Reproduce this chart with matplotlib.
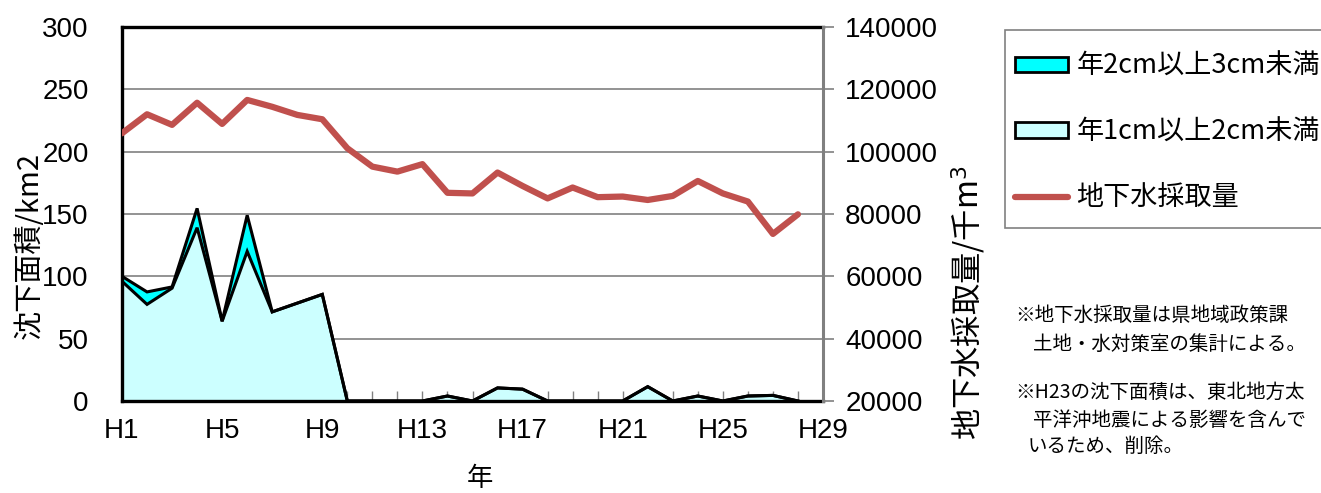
import numpy as np
import matplotlib
matplotlib.use("Agg")
import matplotlib.pyplot as plt
from matplotlib.patches import Patch, Rectangle
from matplotlib.lines import Line2D

plt.rcParams['font.family'] = ['Liberation Sans', 'Noto Sans CJK JP', 'DejaVu Sans']
JP = ['Noto Sans CJK JP', 'DejaVu Sans']

# data (H1..H28)
years = np.arange(1, 29)
area_1to2 = [96, 77.5, 90.5, 139, 64, 120, 71.5, 78.5, 85.5, 0,
             0, 0, 0, 4, 0, 10.5, 9.5, 0, 0, 0,
             0, 11.5, 0, 4, 0, 4, 4.5, 0]
area_2to3 = [4, 10, 1, 15.5, 0, 29, 0, 0, 0, 0,
             0, 0, 0, 0, 0, 0, 0, 0, 0, 0,
             0, 0, 0, 0, 0, 0, 0, 0]
pumping = [105900, 112000, 108600, 115700, 108900, 116600, 114400, 111800, 110400, 101100,
           95200, 93600, 96000, 86800, 86600, 93300, 89000, 85000, 88500, 85400,
           85600, 84500, 85800, 90600, 86600, 84000, 73600, 79900]
xtick_pos = [1, 5, 9, 13, 17, 21, 25, 29]
xtick_lab = ['H1', 'H5', 'H9', 'H13', 'H17', 'H21', 'H25', 'H29']

W, H = 1321, 493
fig = plt.figure(figsize=(W / 100, H / 100), dpi=100)
ax = fig.add_axes([122 / W, (H - 401) / H, (823 - 122) / W, (401 - 27) / H])

c1 = '#CCFFFF'
c2 = '#00FFFF'
lower = np.array(area_1to2)
upper = lower + np.array(area_2to3)
ax.fill_between(years, 0, lower, color=c1, lw=0, zorder=2)
ax.fill_between(years, lower, upper, color=c2, lw=0, zorder=2)
ax.plot(years, lower, color='black', lw=2.2, zorder=3, solid_joinstyle='miter')
ax.plot(years, upper, color='black', lw=2.2, zorder=3, solid_joinstyle='miter')

ax.set_xlim(1, 29)
ax.set_ylim(0, 300)
ax.set_yticks(np.arange(0, 301, 50))
ax.set_xticks(xtick_pos)
ax.set_xticklabels(xtick_lab)
ax.set_xticks(np.arange(1, 30), minor=True)
ax.tick_params(axis='x', which='both', direction='in', colors='#808080', length=7, width=1,
               labelcolor='black', labelsize=20, pad=12)
ax.tick_params(axis='y', direction='in', length=0, labelsize=20, pad=24)
ax.grid(axis='y', color='#808080', lw=1.2, zorder=1)
for s in ['left', 'bottom', 'top']:
    ax.spines[s].set_color('black')
    ax.spines[s].set_linewidth(2.4)
ax.spines['right'].set_visible(False)
ax.set_axisbelow(True)

ax2 = ax.twinx()
ax2.plot(years, pumping, color='#C0504D', lw=4.5, zorder=4, solid_capstyle='round')
ax2.set_ylim(20000, 140000)
ax2.set_yticks(np.arange(20000, 140001, 20000))
ax2.tick_params(axis='y', direction='out', length=8, width=1.2, colors='#808080',
                labelcolor='black', labelsize=20, pad=8)
ax2.spines['right'].set_color('#808080')
ax2.spines['right'].set_linewidth(2.2)
for s in ['left', 'bottom', 'top']:
    ax2.spines[s].set_visible(False)

fig.text(30 / W, 1 - 245 / H, '沈下面積/km2', rotation=90, ha='center', va='center',
         fontsize=21, family=JP)
fig.text(969 / W, 1 - 303 / H, '地下水採取量/千m$^3$', rotation=90, ha='center', va='center',
         fontsize=22.5, family=JP)
fig.text(480 / W, 1 - 478 / H, '年', ha='center', va='center', fontsize=19, family=JP)

# legend frame (cut off at the right edge as in the original)
fig.patches.append(Rectangle((1005 / W, 1 - 228 / H), 400 / W, 198 / H,
                             transform=fig.transFigure, facecolor='white',
                             edgecolor='#808080', lw=1.2, zorder=0))
handles = [Patch(facecolor=c2, edgecolor='black', lw=2),
           Patch(facecolor=c1, edgecolor='black', lw=2),
           Line2D([], [], color='#C0504D', lw=4.5, solid_capstyle='round')]
labels = ['年2cm以上3cm未満', '年1cm以上2cm未満', '地下水採取量']
leg = fig.legend(handles, labels, loc='upper left', bbox_to_anchor=(1015 / W, 1 - 53 / H),
                 frameon=False, prop={'family': JP, 'size': 19.5},
                 handlelength=1.96, handleheight=0.5, handletextpad=0.3,
                 labelspacing=1.43, borderpad=0, borderaxespad=0)

notes = [
    (1015, 315, '※地下水採取量は県地域政策課'),
    (1033, 344, '土地・水対策室の集計による。'),
    (1015, 392, '※H23の沈下面積は、東北地方太'),
    (1033, 420, '平洋沖地震による影響を含んで'),
    (1028, 446, 'いるため、削除。'),
]
for x, y, t in notes:
    fig.text(x / W, 1 - y / H, t, ha='left', va='center', fontsize=14, family=JP)

fig.savefig('out.png', dpi=100)
